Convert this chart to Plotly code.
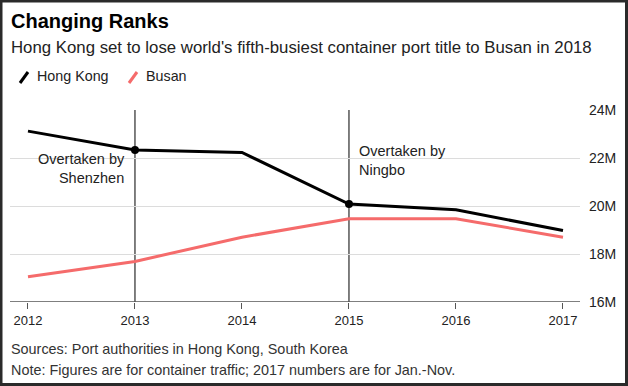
import plotly.graph_objects as go

years = [2012, 2013, 2014, 2015, 2016, 2017]
hong_kong = [23.12, 22.33, 22.23, 20.08, 19.84, 18.98]
busan = [17.05, 17.69, 18.70, 19.47, 19.47, 18.70]
event_years = [2013, 2015]
event_labels = ["Overtaken by<br>Shenzhen", "Overtaken by<br>Ningbo"]
y_ticks = [16, 18, 20, 22, 24]
y_tick_labels = ["16M", "18M", "20M", "22M", "24M"]

W, H = 628, 386
L, R, T, B = 10, 48, 110, 84
PW, PH = W - L - R, H - T - B

def px(x):
    return (x - L) / PW

def py(y):
    return (H - B - y) / PH

FONT = "Liberation Sans, Arial, sans-serif"
HK_COLOR = "#000000"
BUSAN_COLOR = "#f56b6b"

fig = go.Figure()
fig.add_trace(go.Scatter(x=years, y=busan, mode="lines", name="Busan",
                         line=dict(color=BUSAN_COLOR, width=3), showlegend=False))
fig.add_trace(go.Scatter(x=years, y=hong_kong, mode="lines", name="Hong Kong",
                         line=dict(color=HK_COLOR, width=3), showlegend=False))
ev_vals = [hong_kong[years.index(y)] for y in event_years]
fig.add_trace(go.Scatter(x=event_years, y=ev_vals, mode="markers",
                         marker=dict(color="#000", size=8), showlegend=False,
                         hoverinfo="skip"))

shapes = []
for ey in event_years:
    shapes.append(dict(type="line", xref="x", yref="y", x0=ey, x1=ey,
                       y0=y_ticks[0], y1=y_ticks[-1], line=dict(color="#000", width=1),
                       layer="below"))
# legend icons
shapes.append(dict(type="line", xref="paper", yref="paper",
                   x0=px(20), x1=px(28), y0=py(83), y1=py(72),
                   line=dict(color=HK_COLOR, width=3)))
shapes.append(dict(type="line", xref="paper", yref="paper",
                   x0=px(129), x1=px(137), y0=py(83), y1=py(72),
                   line=dict(color=BUSAN_COLOR, width=3)))
# border
shapes.append(dict(type="rect", xref="paper", yref="paper",
                   x0=px(1), x1=px(W - 1.5), y0=py(1), y1=py(H - 1.5),
                   line=dict(color="#2a2a2a", width=3)))

annotations = [
    dict(text="<b>Changing Ranks</b>", x=px(9), y=py(21), xref="paper", yref="paper",
         xanchor="left", yanchor="middle", showarrow=False,
         font=dict(family=FONT, size=20, color="#000")),
    dict(text="Hong Kong set to lose world's fifth-busiest container port title to Busan in 2018",
         x=px(9), y=py(48), xref="paper", yref="paper", xanchor="left", yanchor="middle",
         showarrow=False, font=dict(family=FONT, size=16.8, color="#222")),
    dict(text="Hong Kong", x=px(35), y=py(76), xref="paper", yref="paper",
         xanchor="left", yanchor="middle", showarrow=False,
         font=dict(family=FONT, size=14.3, color="#222")),
    dict(text="Busan", x=px(144), y=py(76), xref="paper", yref="paper",
         xanchor="left", yanchor="middle", showarrow=False,
         font=dict(family=FONT, size=14.3, color="#222")),
    dict(text="Sources: Port authorities in Hong Kong, South Korea", x=px(9), y=py(349),
         xref="paper", yref="paper", xanchor="left", yanchor="middle", showarrow=False,
         font=dict(family=FONT, size=14.4, color="#333")),
    dict(text="Note: Figures are for container traffic; 2017 numbers are for Jan.-Nov.",
         x=px(9), y=py(370), xref="paper", yref="paper", xanchor="left", yanchor="middle",
         showarrow=False, font=dict(family=FONT, size=14.4, color="#333")),
    dict(text=event_labels[0], x=event_years[0], xref="x", y=py(168), yref="paper",
         xanchor="right", yanchor="middle", xshift=-8, align="right", showarrow=False,
         font=dict(family=FONT, size=14.5, color="#222")),
    dict(text=event_labels[1], x=event_years[1], xref="x", y=py(160), yref="paper",
         xanchor="left", yanchor="middle", xshift=8, align="left", showarrow=False,
         font=dict(family=FONT, size=14.5, color="#222")),
]

fig.update_layout(
    width=W, height=H,
    margin=dict(l=L, r=R, t=T, b=B),
    paper_bgcolor="white", plot_bgcolor="white",
    shapes=shapes, annotations=annotations,
    xaxis=dict(range=[2011.832, 2017.159], tickvals=years, ticktext=[str(y) for y in years],
               showgrid=False, zeroline=False, showline=False,
               ticks="outside", ticklen=6, tickcolor="#555", tickwidth=1,
               tickfont=dict(family=FONT, size=13, color="#222"), fixedrange=True),
    yaxis=dict(range=[16, 24], side="right", tickvals=y_ticks, ticktext=y_tick_labels,
               showgrid=True, gridcolor="#dcdcdc", gridwidth=1, zeroline=False,
               showline=False, ticks="", ticklabelstandoff=8,
               tickfont=dict(family=FONT, size=14, color="#222"), fixedrange=True),
)
# x axis baseline at 16M drawn as a shape on the y scale
fig.add_shape(type="line", xref="paper", yref="y", x0=0, x1=1, y0=y_ticks[0], y1=y_ticks[0],
              line=dict(color="#555", width=1.5))

fig.write_html("out.html", config={"displayModeBar": False},
               post_script="document.body.style.margin='0';document.body.style.overflow='hidden';")
